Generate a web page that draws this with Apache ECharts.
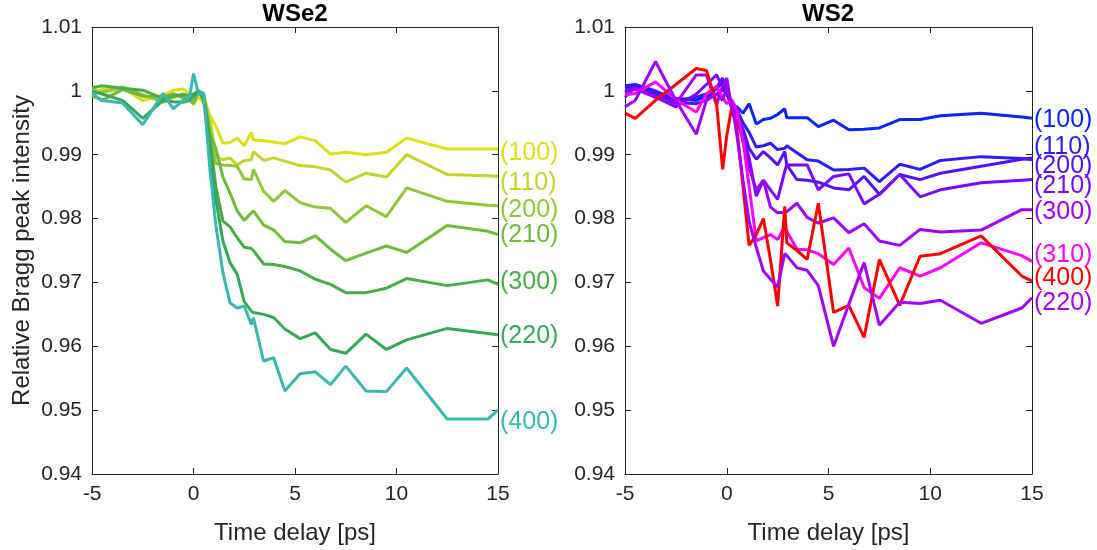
<!DOCTYPE html>
<html>
<head>
<meta charset="utf-8">
<script src="https://cdn.jsdelivr.net/npm/echarts@6/dist/echarts.min.js"></script>
<style>html,body{margin:0;padding:0;background:#fff}#c{width:1097px;height:550px}</style>
</head>
<body>
<div id="c"></div>
<script>
// time delay grid [ps]
const t = [-5, -4.5, -3.5, -2.5, -1.5, -1, -0.5, -0.2, 0, 0.25, 0.5, 0.8, 1.1, 1.45, 1.8, 2.15, 2.5, 2.85, 2.95, 3.45, 3.95, 4.5, 5.25, 6, 6.75, 7.5, 8.5, 9.5, 10.5, 12.5, 14.5, 15];

// WSe2 panel
const wse2_100 = [0.9998, 1.0002, 1.0005, 0.9985, 0.9993, 1.0001, 1.0003, 0.9995, 0.9978, 0.9992, 0.998, 0.9962, 0.9945, 0.9918, 0.9919, 0.9926, 0.9914, 0.9935, 0.9923, 0.9922, 0.992, 0.9917, 0.9928, 0.9922, 0.9901, 0.9904, 0.99, 0.9904, 0.9926, 0.9909, 0.9909, 0.9909];
const wse2_110 = [1.0003, 0.9998, 1.0003, 0.9992, 0.9985, 0.9996, 0.9988, 0.999, 0.998, 0.9995, 0.9993, 0.996, 0.9897, 0.9892, 0.9895, 0.9884, 0.9891, 0.9892, 0.9905, 0.9891, 0.9895, 0.989, 0.9883, 0.9881, 0.9876, 0.9857, 0.9871, 0.9865, 0.99, 0.9869, 0.9867, 0.9866];
const wse2_200 = [0.9995, 0.9998, 1.0006, 0.9994, 0.9982, 0.999, 0.9995, 0.999, 0.9985, 1.0, 0.9995, 0.9939, 0.9886, 0.9884, 0.9883, 0.9882, 0.9862, 0.9861, 0.9877, 0.9843, 0.9827, 0.9844, 0.9825, 0.9818, 0.9816, 0.9794, 0.982, 0.9803, 0.9848, 0.9827, 0.9821, 0.982];
const wse2_210 = [0.9992, 0.9985, 1.0002, 0.9992, 0.999, 0.9995, 0.999, 0.9985, 0.998, 1.0, 0.999, 0.9934, 0.991, 0.9865, 0.984, 0.9812, 0.9797, 0.9809, 0.9812, 0.979, 0.9782, 0.9764, 0.9762, 0.9773, 0.9752, 0.9734, 0.9746, 0.9757, 0.9747, 0.9789, 0.978, 0.9775];
const wse2_300 = [1.0005, 1.0008, 1.0004, 1.0001, 0.9988, 0.9992, 0.9994, 0.9993, 0.9995, 1.0, 0.9993, 0.993, 0.985, 0.9796, 0.9787, 0.977, 0.9755, 0.9753, 0.975, 0.9729, 0.9728, 0.9725, 0.9718, 0.9705, 0.9697, 0.9684, 0.9684, 0.9691, 0.9706, 0.9695, 0.9704, 0.9697];
const wse2_220 = [1.0, 0.9995, 0.9985, 0.9957, 0.9985, 0.9983, 0.9982, 0.9985, 0.9992, 1.0, 0.9985, 0.991, 0.983, 0.9765, 0.9731, 0.9713, 0.967, 0.9655, 0.9653, 0.965, 0.9645, 0.9627, 0.9612, 0.9621, 0.9595, 0.9589, 0.9619, 0.9595, 0.961, 0.9628, 0.962, 0.9618];
const wse2_400 = [0.9996, 0.9985, 0.9981, 0.9947, 0.9996, 0.9972, 0.9985, 0.999, 1.0027, 0.9995, 0.9997, 0.988, 0.979, 0.9715, 0.9668, 0.966, 0.9663, 0.9634, 0.9645, 0.9577, 0.9582, 0.953, 0.9557, 0.956, 0.954, 0.9569, 0.953, 0.9529, 0.9566, 0.9486, 0.9486, 0.95];

// WS2 panel
const ws2_100 = [1.0005, 1.0008, 0.9998, 0.9988, 0.9985, 0.9992, 0.9995, 1.0003, 0.9995, 0.9978, 0.9975, 0.9965, 0.998, 0.9948, 0.9955, 0.9957, 0.9963, 0.9972, 0.9958, 0.9958, 0.9958, 0.9944, 0.9954, 0.9939, 0.994, 0.9942, 0.9955, 0.9955, 0.9961, 0.9965, 0.9959, 0.9957];
const ws2_110 = [1.0008, 1.001, 1.0, 0.9985, 0.999, 0.9995, 1.0003, 1.0015, 1.0, 0.998, 0.997, 0.995, 0.9935, 0.9912, 0.9914, 0.9918, 0.9908, 0.991, 0.9914, 0.9903, 0.9892, 0.989, 0.9876, 0.9877, 0.9879, 0.9858, 0.9885, 0.9877, 0.9891, 0.9897, 0.9894, 0.9892];
const ws2_200 = [0.9998, 1.0005, 0.9995, 0.9982, 0.998, 0.9985, 1.0005, 1.002, 0.9995, 0.9975, 0.996, 0.994, 0.991, 0.9893, 0.9905, 0.9895, 0.9884, 0.9905, 0.9884, 0.9861, 0.986, 0.9857, 0.9848, 0.9845, 0.9866, 0.9838, 0.9869, 0.9861, 0.9871, 0.9882, 0.9893, 0.9895];
const ws2_210 = [1.0002, 1.0003, 0.999, 0.9975, 0.9995, 1.001, 1.0025, 1.0005, 1.001, 0.997, 0.995, 0.993, 0.9895, 0.9835, 0.986, 0.9845, 0.983, 0.9874, 0.9884, 0.9884, 0.9884, 0.9845, 0.9866, 0.987, 0.9823, 0.9838, 0.9869, 0.9834, 0.9845, 0.9856, 0.986, 0.9861];
const ws2_300 = [0.999, 1.0005, 0.999, 0.998, 1.0025, 1.0025, 0.9978, 1.0008, 1.002, 0.997, 0.996, 0.992, 0.988, 0.9845, 0.986, 0.9818, 0.9809, 0.981, 0.9811, 0.9824, 0.9802, 0.9793, 0.9801, 0.9778, 0.9792, 0.9765, 0.9758, 0.9783, 0.9779, 0.9782, 0.9814, 0.9814];
const ws2_310 = [0.9994, 0.9996, 1.0014, 0.9986, 0.9967, 0.9995, 1.0007, 0.999, 0.998, 0.9986, 0.997, 0.9923, 0.985, 0.9765, 0.977, 0.9775, 0.9767, 0.9788, 0.978, 0.9752, 0.9751, 0.9745, 0.9728, 0.9754, 0.9692, 0.9675, 0.9723, 0.971, 0.9723, 0.9762, 0.9742, 0.9733];
const ws2_400 = [0.9965, 0.9957, 0.9985, 1.001, 1.0035, 1.0032, 0.998, 0.9877, 0.993, 0.9975, 0.994, 0.985, 0.9758, 0.9775, 0.98, 0.9735, 0.9663, 0.9819, 0.9762, 0.975, 0.9736, 0.9824, 0.9653, 0.9664, 0.9614, 0.9736, 0.9664, 0.9741, 0.9745, 0.9773, 0.971, 0.9702];
const ws2_220 = [0.9975, 0.9985, 1.0046, 0.9985, 0.9932, 0.9985, 0.9995, 0.9985, 1.0005, 0.998, 0.993, 0.986, 0.9795, 0.9755, 0.9718, 0.9705, 0.9693, 0.9745, 0.9742, 0.9723, 0.9719, 0.9695, 0.96, 0.9666, 0.9731, 0.9633, 0.9669, 0.9667, 0.9672, 0.9636, 0.966, 0.9676];

const wse2Names = ['(100)', '(110)', '(200)', '(210)', '(300)', '(220)', '(400)'];
const wse2Values = [wse2_100, wse2_110, wse2_200, wse2_210, wse2_300, wse2_220, wse2_400];
const ws2Names = ['(100)', '(110)', '(200)', '(210)', '(300)', '(310)', '(400)', '(220)'];
const ws2Values = [ws2_100, ws2_110, ws2_200, ws2_210, ws2_300, ws2_310, ws2_400, ws2_220];
const panelTitles = ['WSe2', 'WS2'];
const xName = 'Time delay [ps]';
const yName = 'Relative Bragg peak intensity';

// styling
const wse2Colors = ['#dede10', '#c4d42a', '#93c53a', '#70bb3c', '#46ae45', '#34a95a', '#38b9b0'];
const ws2Colors = ['#0a24ff', '#2c1cff', '#5212ff', '#7808ff', '#a000ff', '#ff00ff', '#ff0000', '#a400f8'];
const wse2LabelDy = [4, 7, 4, 1, -2, 1, 12];
const ws2LabelDy = [2, -13, 8, 6, 2, -6, -3, 5];

const FONT = '"Liberation Sans", Arial, Helvetica, sans-serif';
const AX = '#262626';
const grids = [
  {left: 92, top: 27, width: 406, height: 448},
  {left: 625, top: 27, width: 407, height: 448}
];
const fmtY = v => String(+v.toFixed(2));

const xAxes = [], yAxes = [];
[0, 1].forEach(g => {
  const common = {
    gridIndex: g, type: 'value',
    axisLine: {show: true, onZero: false, lineStyle: {color: AX, width: 1}},
    axisTick: {show: true, inside: true, length: 6, lineStyle: {color: AX, width: 1}},
    splitLine: {show: false}
  };
  xAxes.push(Object.assign({}, common, {
    position: 'bottom', min: -5, max: 15, interval: 5,
    axisLabel: {fontSize: 21, color: AX, fontFamily: FONT, margin: 10},
    name: xName, nameLocation: 'middle', nameGap: 47,
    nameTextStyle: {fontSize: 24, color: AX, fontFamily: FONT}
  }));
  xAxes.push(Object.assign({}, common, {
    position: 'top', min: -5, max: 15, interval: 5, axisLabel: {show: false}
  }));
  const yl = Object.assign({}, common, {
    position: 'left', min: 0.94, max: 1.01, interval: 0.01,
    axisLabel: {fontSize: 21, color: AX, fontFamily: FONT, margin: 10, formatter: fmtY}
  });
  if (g === 0) {
    yl.name = yName; yl.nameLocation = 'middle'; yl.nameGap = 58;
    yl.nameTextStyle = {fontSize: 24, color: AX, fontFamily: FONT};
  }
  yAxes.push(yl);
  yAxes.push(Object.assign({}, common, {
    position: 'right', min: 0.94, max: 1.01, interval: 0.01, axisLabel: {show: false}
  }));
});

const series = [];
function addPanel(g, names, values, colors, dys) {
  names.forEach((nm, i) => {
    series.push({
      type: 'line', name: g + nm,
      xAxisIndex: g * 2, yAxisIndex: g * 2,
      data: t.map((x, k) => [x, values[i][k]]),
      showSymbol: false, symbol: 'none',
      lineStyle: {color: colors[i], width: 3},
      itemStyle: {color: colors[i]},
      endLabel: {
        show: true, formatter: nm, color: colors[i], fontSize: 25,
        fontFamily: FONT, distance: 2, offset: [0, dys[i]]
      },
      emphasis: {disabled: true}
    });
  });
}
addPanel(0, wse2Names, wse2Values, wse2Colors, wse2LabelDy);
addPanel(1, ws2Names, ws2Values, ws2Colors, ws2LabelDy);

const chart = echarts.init(document.getElementById('c'), null, {renderer: 'canvas'});
chart.setOption({
  animation: false,
  backgroundColor: '#fff',
  title: [
    {text: panelTitles[0], left: 295, top: 2, textAlign: 'center', padding: 0,
     textStyle: {fontSize: 24, fontWeight: 'bold', color: '#000', fontFamily: FONT}},
    {text: panelTitles[1], left: 828, top: 2, textAlign: 'center', padding: 0,
     textStyle: {fontSize: 24, fontWeight: 'bold', color: '#000', fontFamily: FONT}}
  ],
  grid: grids,
  xAxis: xAxes,
  yAxis: yAxes,
  series: series
});
</script>
</body>
</html>
